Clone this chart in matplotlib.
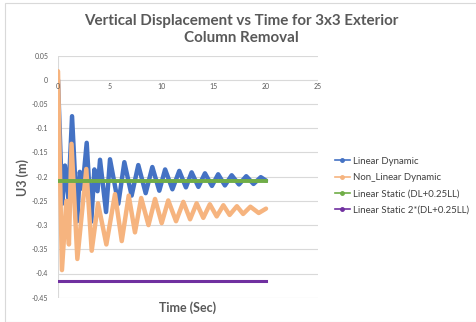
import matplotlib
matplotlib.use("Agg")
import matplotlib.pyplot as plt
from matplotlib.lines import Line2D
from matplotlib.patches import Rectangle

# ---- data ----
lin_t = [0, 0.4, 0.67, 0.99, 1.35, 1.85, 2.1, 2.35, 2.76, 3.2, 3.5, 3.8, 4.04,
         4.62, 5.0, 5.8, 6.38, 7.08, 7.72, 8.43, 9.07, 9.74, 10.3, 11.0, 11.66,
         12.3, 12.85, 13.5, 14.13, 14.8, 15.4, 16.05, 16.7, 17.4, 18.1, 18.8,
         19.5, 20.0]
lin_u = [0.0, -0.256, -0.177, -0.245, -0.075, -0.292, -0.19, -0.225, -0.13,
         -0.293, -0.185, -0.23, -0.165, -0.273, -0.164, -0.256, -0.17, -0.239,
         -0.176, -0.234, -0.18, -0.229, -0.185, -0.226, -0.188, -0.222, -0.191,
         -0.221, -0.193, -0.219, -0.195, -0.218, -0.197, -0.216, -0.199, -0.215,
         -0.201, -0.208]

nl_t = [0, 0.38, 0.8, 1.05, 1.3, 1.86, 2.72, 3.24, 3.85, 4.65, 5.48, 6.13, 6.8,
        7.4, 8.0, 8.7, 9.33, 9.97, 10.6, 11.35, 12.05, 12.7, 13.33, 13.97, 14.6,
        15.26, 15.9, 16.5, 17.2, 17.8, 18.5, 19.3, 20.0]
nl_u = [0.018, -0.393, -0.25, -0.34, -0.132, -0.37, -0.184, -0.353, -0.255,
        -0.34, -0.236, -0.333, -0.239, -0.315, -0.244, -0.30, -0.246, -0.296,
        -0.249, -0.292, -0.252, -0.288, -0.255, -0.285, -0.257, -0.282, -0.259,
        -0.279, -0.261, -0.277, -0.262, -0.275, -0.266]

static_t = [0, 20]
static_u = [-0.208, -0.208]
static2_t = [0, 20]
static2_u = [-0.416, -0.416]

series_names = ["Linear Dynamic", "Non_Linear Dynamic",
                "Linear Static (DL+0.25LL)", "Linear Static 2*(DL+0.25LL)"]
colors = ["#4472C4", "#F6B47F", "#70AD47", "#7030A0"]

xticks = [0, 5, 10, 15, 20, 25]
yticks = [0.05, 0, -0.05, -0.1, -0.15, -0.2, -0.25, -0.3, -0.35, -0.4, -0.45]
ytick_labels = ["0.05", "0", "-0.05", "-0.1", "-0.15", "-0.2", "-0.25", "-0.3",
                "-0.35", "-0.4", "-0.45"]

plt.rcParams['font.family'] = ['Lato', 'DejaVu Sans']

fig = plt.figure(figsize=(4.76, 3.22), dpi=100)
fig.patch.set_facecolor("white")
fig.patches.append(Rectangle((5 / 476, 0.5 / 322), 1.2, 318.5 / 322,
                             transform=fig.transFigure, fill=False,
                             edgecolor="#d9d9d9", linewidth=0.8))

ax = fig.add_axes([58 / 476, 24.3 / 322, 260 / 476, 242 / 322])
ax.set_xlim(0, 25)
ax.set_ylim(-0.45, 0.05)

for y in yticks:
    ax.axhline(y, color="#d9d9d9", linewidth=0.8, zorder=0)
ax.axvline(0, color="#d9d9d9", linewidth=0.8, zorder=0)

ax.plot(lin_t, lin_u, color=colors[0], linewidth=3.2, solid_joinstyle="round",
        solid_capstyle="round", zorder=2)
ax.plot(nl_t, nl_u, color=colors[1], linewidth=3.2, solid_joinstyle="round",
        solid_capstyle="round", zorder=3)
ax.plot(static_t, static_u, color=colors[2], linewidth=2.8, zorder=4)
ax.plot(static2_t, static2_u, color=colors[3], linewidth=2.2, zorder=5)

for s in ax.spines.values():
    s.set_visible(False)
ax.set_yticks(yticks)
ax.set_yticklabels(ytick_labels)
ax.tick_params(axis="y", length=0, labelsize=5, colors="#595959", pad=7)
ax.set_xticks([])
for x in xticks:
    ax.text(x, -0.006, str(x), ha="center", va="top", fontsize=5,
            color="#595959")

fig.text(23 / 476, 1 - 177 / 322, "U3 (m)", ha="center", va="center",
         rotation=90, fontsize=9, fontweight="bold", color="#595959")
fig.text(188 / 476, 1 - 308 / 322, "Time (Sec)", ha="center", va="center",
         fontsize=9, fontweight="bold", color="#595959")
fig.text(241 / 476, 1 - 29.5 / 322,
         "Vertical Displacement vs Time for 3x3 Exterior\nColumn Removal",
         ha="center", va="center", fontsize=10.9, fontweight="bold",
         color="#595959", linespacing=1.27)

handles = [Line2D([0], [0], color=c, linewidth=1.2, marker="o", markersize=2.5)
           for c in colors]
leg = fig.legend(handles, series_names, loc="upper left",
                 bbox_to_anchor=(330 / 476, 1 - 152 / 322), frameon=False,
                 fontsize=6.9, handlelength=1.6, handletextpad=0.3,
                 labelspacing=0.75, borderpad=0)
for t in leg.get_texts():
    t.set_color("#404040")

fig.savefig("out.png", dpi=100, facecolor="white")
